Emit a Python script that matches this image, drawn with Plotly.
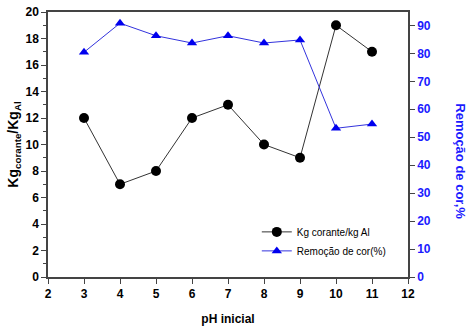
import plotly.graph_objects as go

ph = [3, 4, 5, 6, 7, 8, 9, 10, 11]
kg_ratio = [12, 7, 8, 12, 13, 10, 9, 19, 17]
remocao = [80.4, 90.8, 86.3, 83.7, 86.3, 83.7, 84.8, 53.2, 54.7]

font_family = "Liberation Sans, Arial, sans-serif"

fig = go.Figure()
fig.add_trace(go.Scatter(
    x=ph, y=kg_ratio, mode="lines+markers", name="Kg corante/kg Al",
    line=dict(color="#333333", width=1),
    marker=dict(symbol="circle", size=10, color="black"),
))
fig.add_trace(go.Scatter(
    x=ph, y=remocao, mode="lines+markers", name="Remoção de cor(%)",
    line=dict(color="#3333dd", width=1),
    marker=dict(symbol="triangle-up", size=9, color="#0000ee"),
    yaxis="y2",
))

fig.update_layout(
    width=469, height=329,
    margin=dict(l=48, r=61, t=5, b=45),
    plot_bgcolor="white", paper_bgcolor="white",
    font=dict(family=font_family, size=11, color="black"),
    showlegend=True,
    legend=dict(x=0.58, y=0.225, xanchor="left", yanchor="top",
                bgcolor="rgba(0,0,0,0)", font=dict(size=10),
                tracegroupgap=0, itemwidth=30),
    xaxis=dict(
        range=[2, 12], dtick=1, tick0=2,
        showgrid=False, zeroline=False,
        showline=True, linecolor="#444444", linewidth=1.5, mirror=True,
        ticks="outside", ticklen=5, tickcolor="#444444",
        tickfont=dict(size=12, family=font_family, weight="bold"),
        title=dict(text="<b>pH inicial</b>", font=dict(size=12), standoff=14),
    ),
    yaxis=dict(
        range=[0, 20], dtick=2, tick0=0,
        showgrid=False, zeroline=False,
        showline=True, linecolor="#444444", linewidth=1.5,
        ticks="outside", ticklen=5, tickcolor="#444444",
        minor=dict(dtick=1, ticks="outside", ticklen=3, tickcolor="#444444"),
        tickfont=dict(size=12, family=font_family, weight="bold"),
        title=dict(text="<b>Kg<sub>corante</sub>/Kg<sub>Al</sub></b>", font=dict(size=14), standoff=4),
    ),
    yaxis2=dict(
        range=[0, 94.8], dtick=10, tick0=0,
        overlaying="y", side="right",
        showgrid=False, zeroline=False,
        showline=True, linecolor="#444444", linewidth=1.5,
        ticks="outside", ticklen=5, tickcolor="#444444",
        tickfont=dict(size=12, family=font_family, color="#1a1aff", weight="bold"),
    ),
    annotations=[dict(
        text="<b>Remoção de cor,%</b>", textangle=90,
        xref="paper", yref="paper", x=1.147, y=0.437,
        xanchor="center", yanchor="middle", showarrow=False,
        font=dict(size=13, color="#1a1aff", family=font_family),
    )],
)

fig.write_html("out.html")
